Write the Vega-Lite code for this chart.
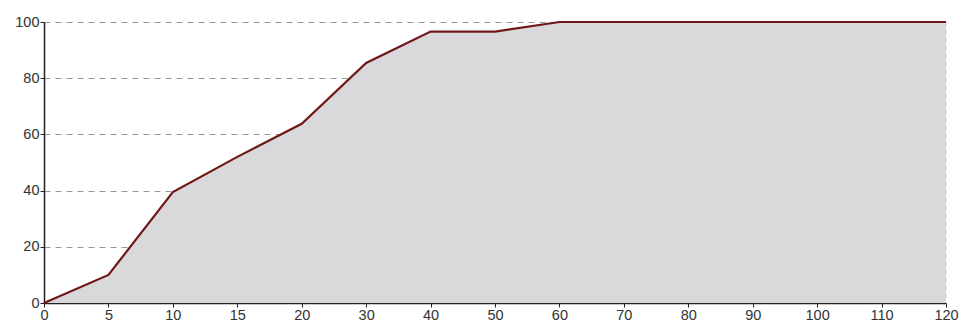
{
  "$schema": "https://vega.github.io/schema/vega-lite/v6.json",
  "width": 902,
  "height": 281,
  "autosize": {"type": "none"},
  "padding": {"left": 44, "top": 22, "right": 16, "bottom": 21},
  "background": "white",
  "config": {"view": {"stroke": null}},
  "data": {"values": [
    {"t": 0, "v": 0},
    {"t": 5, "v": 10},
    {"t": 10, "v": 39.5},
    {"t": 15, "v": 52},
    {"t": 20, "v": 63.8},
    {"t": 30, "v": 85.4},
    {"t": 40, "v": 96.6},
    {"t": 50, "v": 96.6},
    {"t": 60, "v": 100},
    {"t": 70, "v": 100},
    {"t": 80, "v": 100},
    {"t": 90, "v": 100},
    {"t": 100, "v": 100},
    {"t": 110, "v": 100},
    {"t": 120, "v": 100}
  ]},
  "encoding": {
    "x": {
      "field": "t", "type": "ordinal",
      "scale": {"type": "point", "padding": 0},
      "axis": {"title": null, "labelAngle": 0, "labelFont": "Liberation Sans", "labelFontSize": 14.5, "labelColor": "#333", "domainColor": "#222", "domainWidth": 1.5, "tickColor": "#222", "tickSize": 4, "labelPadding": 1, "grid": false}
    },
    "y": {
      "field": "v", "type": "quantitative",
      "scale": {"domain": [0, 100], "nice": false},
      "axis": {"title": null, "values": [0, 20, 40, 60, 80, 100], "labelFont": "Liberation Sans", "labelFontSize": 14.5, "labelColor": "#333", "domainColor": "#222", "domainWidth": 1.5, "tickColor": "#222", "tickSize": 4, "labelPadding": 1, "grid": true, "gridColor": "#999", "gridDash": [6, 5], "gridWidth": 1}
    }
  },
  "layer": [
    {"mark": {"type": "area", "color": "#d9d9db", "opacity": 1}},
    {
      "data": {"values": [{"t": 120}]},
      "mark": {"type": "rule", "color": "#ccc", "strokeDash": [4, 4], "strokeWidth": 1},
      "encoding": {"x": {"field": "t", "type": "ordinal"}, "y": {"value": 0}, "y2": {"value": 281}}
    },
    {"mark": {"type": "line", "color": "#701818", "strokeWidth": 2.2}}
  ]
}
